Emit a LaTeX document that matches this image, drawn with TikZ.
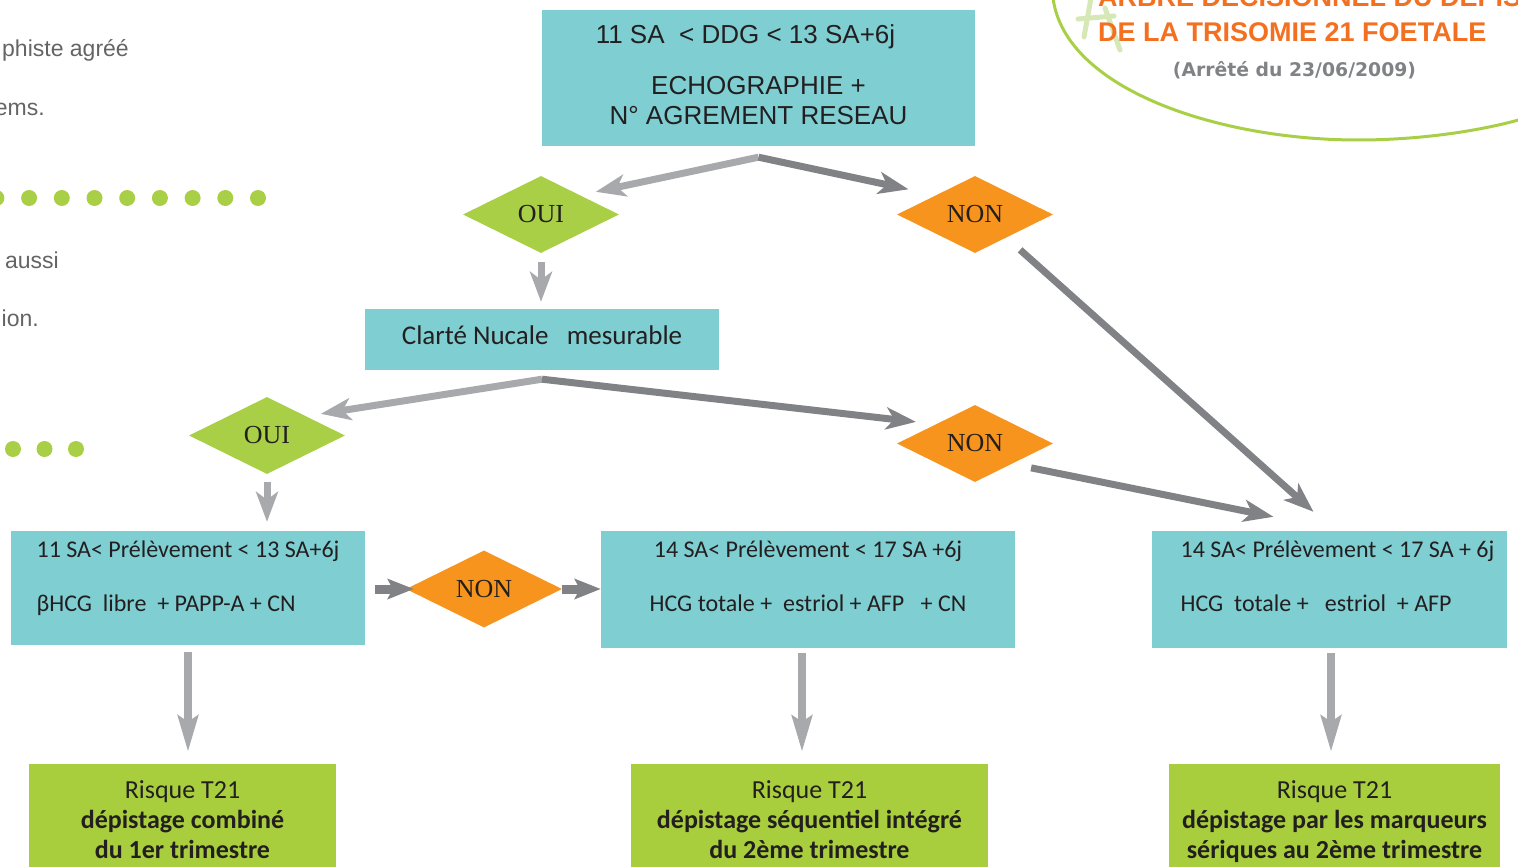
\documentclass[tikz,border=0pt]{standalone}
\usepackage{fontspec}
\setmainfont{Liberation Sans}
\newfontfamily\arialf{Liberation Sans}
\newfontfamily\seriff{Liberation Serif}
\newfontfamily\myriadf{Carlito}
\newfontfamily\dejavuf{DejaVu Sans}
\usetikzlibrary{shapes.geometric,arrows.meta}
\definecolor{tealbox}{HTML}{7ECED2}
\definecolor{greenA}{HTML}{A8CF45}
\definecolor{greenB}{HTML}{A8CE3E}
\definecolor{orangeA}{HTML}{F7941D}
\definecolor{grayD}{HTML}{808285}
\definecolor{grayL}{HTML}{A7A9AC}
\definecolor{ink}{HTML}{231F20}
\definecolor{titleO}{HTML}{F37021}
\definecolor{subG}{HTML}{808285}
\definecolor{leftT}{HTML}{636466}
\definecolor{paleG}{HTML}{D5E8B5}
\newcommand\dstrut[1]{\rule[-#1]{0pt}{#1}}
\begin{document}
\begin{tikzpicture}[x=1pt,y=-1pt,
  box/.style={fill=tealbox, draw=none, inner sep=0pt, text=ink},
  gbox/.style={fill=greenB, draw=none, inner sep=0pt, text=ink, align=center,
     font=\myriadf\fontsize{26}{30}\selectfont},
  diam/.style={diamond, aspect=2, minimum width=156pt, minimum height=77pt,
     inner sep=0pt, text=ink, font=\seriff\fontsize{26}{28}\selectfont},
  oui/.style={diam, fill=greenA},
  non/.style={diam, fill=orangeA},
  arrL/.style={line width=7pt, draw=grayL, -{Stealth[length=30pt,width=22pt,inset=8pt]}},
  arrD/.style={line width=7pt, draw=grayD, -{Stealth[length=30pt,width=22pt,inset=8pt]}},
  arrH/.style={line width=9pt, draw=grayD, -{Stealth[length=26pt,width=20pt,inset=5pt]}},
  vdown/.style={line width=8pt, draw=grayL, -{Stealth[length=36pt,width=20pt,inset=6pt]}},
  lefttext/.style={inner sep=0pt, anchor=base east, text=leftT, font=\arialf\fontsize{23}{27}\selectfont},
  dotg/.style={fill=greenA}
]
\useasboundingbox (0,0) rectangle (1518,867);
\clip (0,0) rectangle (1518,867);

% left page fragments
\node[lefttext] (lt1) at (129,57) {phiste agréé};
\node[lefttext] (lt2) at (45,115) {ems.};
\node[lefttext] (lt3) at (59,268) {aussi};
\node[lefttext] (lt4) at (39,326) {ion.};
\foreach \i in {0,...,8} \fill[dotg] ({-3.6+32.7*\i},198) circle (8pt);
\foreach \i in {0,...,2} \fill[dotg] ({13+31.5*\i},449) circle (8pt);

% title area
\draw[greenA, line width=3pt] (1053,-2) .. controls (1065,90) and (1220,140) .. (1358,140)
   .. controls (1420,140) and (1480,131) .. (1522,119);
\draw[paleG, line width=5pt, line cap=round] (1091,-2) -- (1084,37);
\draw[paleG, line width=5pt, line cap=round] (1078,19) -- (1114,16);
\draw[paleG, line width=5pt, line cap=round] (1105,8) -- (1120,50);
\node[anchor=base west, inner sep=0pt, text=titleO, font=\arialf\bfseries\fontsize{27}{30}\selectfont] (title1) at (1098,7) {ARBRE DECISIONNEL DU DEPIS};
\node[anchor=base west, inner sep=0pt, text=titleO, font=\arialf\bfseries\fontsize{27}{30}\selectfont] (title2) at (1098,42) {DE LA TRISOMIE 21 FOETALE};
\node[anchor=base, inner sep=0pt, text=subG, font=\dejavuf\bfseries\fontsize{18.8}{22}\selectfont] (sub) at (1294.5,77) {(Arrêté du 23/06/2009)};

% boxes
\node[box, minimum width=433pt, minimum height=136pt, align=center,
  font=\arialf\fontsize{26}{30}\selectfont] (top) at (758.5,78)
  {11 SA\ \ < DDG < 13 SA+6j\hspace*{26pt}\\[21pt]ECHOGRAPHIE +\\N° AGREMENT RESEAU\dstrut{6pt}};
\node[oui] (oui1) at (541,214.5) {OUI};
\node[non] (non1) at (975,214.5) {NON};
\node[box, minimum width=354pt, minimum height=61pt, align=center,
  font=\myriadf\fontsize{27}{30}\selectfont] (clarte) at (542,339.5)
  {Clarté Nucale\ \ \ mesurable\dstrut{8pt}};
\node[oui] (oui2) at (267,435.5) {OUI};
\node[non] (non2) at (975,443.5) {NON};
\node[box, minimum width=354pt, minimum height=114pt, align=left,
  font=\myriadf\fontsize{24}{54}\selectfont] (lbox) at (188,588)
  {11 SA< Prélèvement < 13 SA+6j\\βHCG\ \ libre\ \ + PAPP-A + CN\dstrut{23pt}};
\node[non] (non3) at (484,589) {NON};
\node[box, minimum width=414pt, minimum height=117pt, align=center,
  font=\myriadf\fontsize{24}{54}\selectfont] (mbox) at (808,589.5)
  {14 SA< Prélèvement < 17 SA +6j\\HCG totale +\ \ estriol + AFP\ \ \ + CN\dstrut{26pt}};
\node[box, minimum width=355pt, minimum height=117pt, align=left,
  font=\myriadf\fontsize{24}{54}\selectfont] (rbox) at (1329.5,589.5)
  {\hspace*{16pt}14 SA< Prélèvement < 17 SA + 6j\\\hspace*{16pt}HCG\ \ totale +\ \ \ estriol\ \ + AFP\dstrut{26pt}};
\node[gbox, minimum width=307pt, minimum height=120pt] (lg) at (182.5,824)
  {Risque T21\\\textbf{dépistage combiné}\\\textbf{du 1er trimestre}\dstrut{8pt}};
\node[gbox, minimum width=357pt, minimum height=120pt] (mg) at (809.5,824)
  {Risque T21\\\textbf{dépistage séquentiel intégré}\\\textbf{du 2ème trimestre}\dstrut{8pt}};
\node[gbox, minimum width=331pt, minimum height=120pt] (rg) at (1334.5,824)
  {Risque T21\\\textbf{dépistage par les marqueurs}\\\textbf{sériques au 2ème trimestre}\dstrut{8pt}};

% connectors
\coordinate (tsplit) at ([yshift=-11pt]top.south);
\coordinate (csplit) at ([yshift=-9pt]clarte.south);
\draw[arrL, shorten >=16pt] (tsplit) -- (oui1.north east);
\draw[arrD, shorten >=28pt] (tsplit) -- (non1.north west);
\draw[arrL, shorten <=9pt, shorten >=7pt] (oui1.south) -- (oui1.south |- clarte.north);
\draw[arrL, shorten >=15pt] (csplit) -- (oui2.north east);
\draw[arrD, shorten >=20pt] (csplit) -- (non2.north west);
\draw[arrD] ([shift={(6pt,-16pt)}]non1.south east) -- ([shift={(-16pt,19pt)}]rbox.north);
\draw[arrD] ([shift={(17pt,-5pt)}]non2.south east) -- ([shift={(-56pt,14pt)}]rbox.north);
\draw[arrL, shorten <=8pt, shorten >=9pt] (oui2.south) -- (oui2.south |- lbox.north);
\draw[arrH, shorten <=10pt, shorten >=-8pt] (lbox.east |- non3.west) -- (non3.west);
\draw[arrH] (non3.east) -- (non3.east -| mbox.west);
\draw[vdown, shorten <=7pt, shorten >=12pt] (lbox.south) -- (lbox.south |- lg.north);
\draw[vdown, shorten <=5pt, shorten >=12pt] ([xshift=-6pt]mbox.south) -- ([xshift=-6pt]mbox.south |- mg.north);
\draw[vdown, shorten <=5pt, shorten >=12pt] ([xshift=1.5pt]rbox.south) -- ([xshift=1.5pt]rbox.south |- rg.north);
\end{tikzpicture}
\end{document}
